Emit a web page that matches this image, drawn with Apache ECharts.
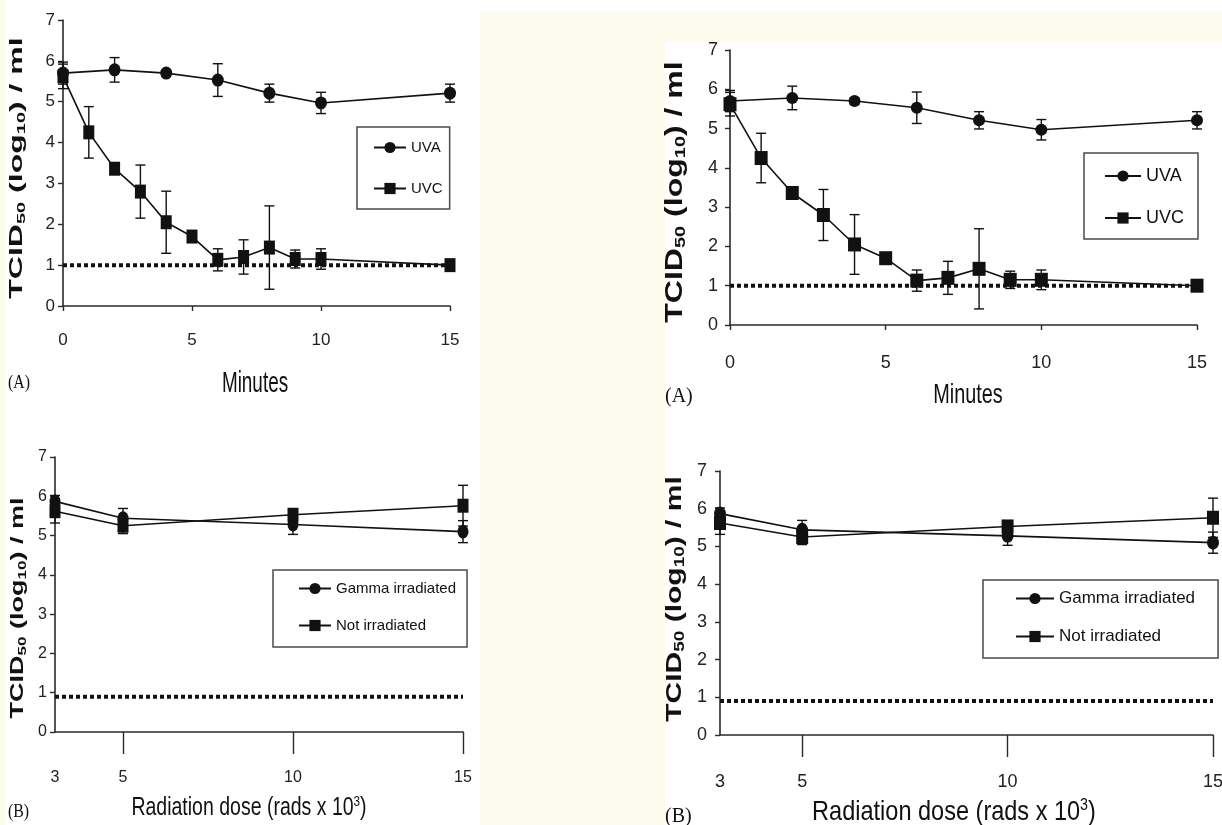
<!DOCTYPE html>
<html>
<head>
<meta charset="utf-8">
<script src="https://cdn.jsdelivr.net/npm/echarts@6/dist/echarts.min.js"></script>
<style>
html, body { margin: 0; padding: 0; background: #fff; }
#chart { width: 1222px; height: 825px; }
</style>
</head>
<body>
<div id="chart"></div>
<script>
// panel A: titre vs UV exposure time
const uvaMinutes = [0, 2, 4, 6, 8, 10, 15];
const uvaTitre = [5.7, 5.78, 5.7, 5.53, 5.21, 4.97, 5.21];
const uvaSd = [0.27, 0.3, 0.08, 0.4, 0.22, 0.26, 0.22];
const uvcMinutes = [0, 1, 2, 3, 4, 5, 6, 7, 8, 9, 10, 15];
const uvcTitre = [5.62, 4.25, 3.36, 2.8, 2.05, 1.7, 1.13, 1.2, 1.43, 1.15, 1.15, 1.0];
const uvcSd = [0.3, 0.63, 0.1, 0.65, 0.76, 0.1, 0.27, 0.42, 1.02, 0.22, 0.25, 0.05];
const minuteTicks = [0, 5, 10, 15];
const limitA = 1.0;

// panel B: titre vs gamma dose
const doseRads = [3, 5, 10, 15];
const gammaTitre = [5.87, 5.44, 5.28, 5.1];
const gammaSd = [0.15, 0.25, 0.25, 0.28];
const controlTitre = [5.62, 5.25, 5.53, 5.76];
const controlSd = [0.3, 0.2, 0.15, 0.52];
const doseTicks = [3, 5, 10, 15];
const limitB = 0.9;

const titreTicks = [0, 1, 2, 3, 4, 5, 6, 7];

const ink = '#111';
const axisInk = '#2a2a2a';
const sans = '"Liberation Sans", Arial, sans-serif';
const serif = '"Liberation Serif", "Times New Roman", serif';
const beige = '#fdfaee';

const pairs = (xs, ys) => xs.map((x, i) => [x, ys[i]]);
const triples = (xs, ys, es) => xs.map((x, i) => [x, ys[i], es[i]]);

// error bars drawn through the axis scales
function errorBars(params, api) {
  const x = api.value(0), y = api.value(1), sd = api.value(2);
  const hi = api.coord([x, y + sd]);
  const lo = api.coord([x, y - sd]);
  const cap = 5;
  const st = () => ({ stroke: ink, lineWidth: 1.4 });
  return {
    type: 'group',
    children: [
      { type: 'line', shape: { x1: hi[0], y1: hi[1], x2: lo[0], y2: lo[1] }, style: st() },
      { type: 'line', shape: { x1: hi[0] - cap, y1: hi[1], x2: hi[0] + cap, y2: hi[1] }, style: st() },
      { type: 'line', shape: { x1: lo[0] - cap, y1: lo[1], x2: lo[0] + cap, y2: lo[1] }, style: st() }
    ]
  };
}

function lineSeries(name, idx, xs, ys, symbol, size) {
  return {
    name: name, type: 'line', xAxisIndex: idx, yAxisIndex: idx,
    data: pairs(xs, ys), symbol: symbol, symbolSize: size,
    itemStyle: { color: ink }, lineStyle: { color: ink, width: 1.6 },
    z: 4, silent: true
  };
}
function errSeries(idx, xs, ys, es) {
  return {
    type: 'custom', xAxisIndex: idx, yAxisIndex: idx,
    data: triples(xs, ys, es), renderItem: errorBars,
    encode: { x: 0, y: 1 }, z: 3, silent: true
  };
}
function limitSeries(idx, x0, x1, y) {
  return {
    type: 'line', xAxisIndex: idx, yAxisIndex: idx,
    data: [[x0, y], [x1, y]], symbol: 'none',
    lineStyle: { color: ink, width: 4, type: [4, 3], cap: 'butt' },
    z: 2, silent: true
  };
}

const grids = [
  { left: 63, top: 20, width: 387, height: 286 },
  { left: 55, top: 457, width: 408, height: 275 },
  { left: 730, top: 50, width: 467, height: 275 },
  { left: 720, top: 471, width: 493, height: 264 }
];

function xAxisA(idx, fs, margin) {
  return {
    type: 'value', gridIndex: idx, min: 0, max: 15, interval: 5,
    splitLine: { show: false },
    axisLine: { lineStyle: { color: axisInk, width: 1.6 } },
    axisTick: { length: 5, lineStyle: { color: axisInk, width: 1.4 } },
    axisLabel: { fontFamily: sans, fontSize: fs, color: '#222', margin: margin,
      customValues: minuteTicks }
  };
}
function xAxisB(idx, fs, margin) {
  return {
    type: 'value', gridIndex: idx, min: 3, max: 15,
    splitLine: { show: false },
    axisLine: { lineStyle: { color: axisInk, width: 1.6 } },
    axisTick: { length: 22, lineStyle: { color: axisInk, width: 1.4 },
      customValues: doseTicks.slice(1) },
    axisLabel: { fontFamily: sans, fontSize: fs, color: '#222', margin: margin,
      customValues: doseTicks }
  };
}
function yAxis(idx, fs, margin) {
  return {
    type: 'value', gridIndex: idx, min: 0, max: 7, interval: 1,
    splitLine: { show: false },
    axisLine: { show: true, lineStyle: { color: axisInk, width: 1.6 } },
    axisTick: { show: true, length: 5, lineStyle: { color: axisInk, width: 1.4 } },
    axisLabel: { fontFamily: sans, fontSize: fs, color: '#222', margin: margin,
      customValues: titreTicks }
  };
}

function legendBox(left, top, names, fs, icon, gap, pad) {
  return {
    orient: 'vertical', left: left, top: top, data: names,
    itemWidth: icon, itemHeight: 14, itemGap: gap, padding: pad,
    borderColor: '#4a4a4a', borderWidth: 1.5, backgroundColor: '#fff',
    textStyle: { fontFamily: sans, fontSize: fs, color: '#111', lineHeight: 14 },
    selectedMode: false
  };
}

function yTitle(x, y, fs, sy) {
  return {
    type: 'text', x: x, y: y, rotation: Math.PI / 2, scaleY: sy, z: 10,
    style: {
      text: 'TCID{sub|50} (log{sub|10}) / ml',
      fontFamily: sans, fontWeight: 'bold', fontSize: fs, lineHeight: fs + 4,
      fill: '#111', align: 'center', verticalAlign: 'middle',
      rich: { sub: { fontFamily: sans, fontWeight: 'bold', fontSize: Math.round(fs * 0.62),
        lineHeight: Math.round(fs * 0.62), verticalAlign: 'bottom', fill: '#111' } }
    }
  };
}
function xTitle(x, y, text, fs, sx) {
  return {
    type: 'text', x: x, y: y, scaleX: sx, z: 10,
    style: {
      text: text, fontFamily: sans, fontSize: fs, lineHeight: fs + 2,
      fill: '#111', align: 'center', verticalAlign: 'middle',
      rich: { sup: { fontFamily: sans, fontSize: Math.round(fs * 0.6),
        lineHeight: Math.round(fs * 0.6), verticalAlign: 'top', fill: '#111' } }
    }
  };
}
function tag(x, y, text, fs, sx) {
  return {
    type: 'text', x: x, y: y, scaleX: sx, z: 10,
    style: { text: text, fontFamily: serif, fontSize: fs, fill: '#111',
      align: 'left', verticalAlign: 'middle' }
  };
}

const option = {
  backgroundColor: '#fff',
  animation: false,
  grid: grids.map(g => Object.assign({ outerBoundsMode: 'none', containLabel: false }, g)),
  xAxis: [xAxisA(0, 17, 26), xAxisB(1, 16, 38), xAxisA(2, 18, 29), xAxisB(3, 18, 38)],
  yAxis: [yAxis(0, 17, 8), yAxis(1, 16, 8), yAxis(2, 18, 12), yAxis(3, 18, 13)],
  legend: [
    legendBox(357, 127, ['UVA', 'UVC'], 15, 32, 26, [13, 7, 13, 16]),
    legendBox(273, 570, ['Gamma irradiated', 'Not irradiated'], 15, 32, 22, [11, 11, 14, 25]),
    legendBox(1084, 153, ['UVA', 'UVC'], 18, 36, 24, [14, 14, 12, 20]),
    legendBox(983, 580, ['Gamma irradiated', 'Not irradiated'], 17, 38, 21, [10, 23, 13, 32])
  ],
  graphic: [
    { type: 'rect', shape: { x: 0, y: 0, width: 6, height: 825 }, style: { fill: beige }, z: -5 },
    { type: 'rect', shape: { x: 480, y: 11, width: 185, height: 814 }, style: { fill: beige }, z: -5 },
    { type: 'rect', shape: { x: 665, y: 11, width: 557, height: 31 }, style: { fill: beige }, z: -5 },
    yTitle(17, 168, 32, 0.56),
    xTitle(255, 384, 'Minutes', 30, 0.63),
    tag(8, 383, '(A)', 18, 0.88),
    yTitle(18, 608, 27, 0.67),
    xTitle(249, 808, 'Radiation dose (rads x 10{sup|3})', 25, 0.78),
    tag(8, 812, '(B)', 18, 0.88),
    yTitle(675, 192, 32, 0.74),
    xTitle(968, 395, 'Minutes', 28, 0.71),
    tag(665, 397, '(A)', 20, 1),
    yTitle(675, 599, 30, 0.74),
    xTitle(954, 812, 'Radiation dose (rads x 10{sup|3})', 28, 0.84),
    tag(665, 817, '(B)', 20, 1)
  ],
  series: [
    limitSeries(0, 0, 15, limitA),
    errSeries(0, uvaMinutes, uvaTitre, uvaSd),
    errSeries(0, uvcMinutes, uvcTitre, uvcSd),
    lineSeries('UVA', 0, uvaMinutes, uvaTitre, 'circle', [12, 13]),
    lineSeries('UVC', 0, uvcMinutes, uvcTitre, 'rect', [11, 14]),

    limitSeries(1, 3, 15, limitB),
    errSeries(1, doseRads, gammaTitre, gammaSd),
    errSeries(1, doseRads, controlTitre, controlSd),
    lineSeries('Gamma irradiated', 1, doseRads, gammaTitre, 'circle', [11, 14]),
    lineSeries('Not irradiated', 1, doseRads, controlTitre, 'rect', [11, 14]),

    limitSeries(2, 0, 15, limitA),
    errSeries(2, uvaMinutes, uvaTitre, uvaSd),
    errSeries(2, uvcMinutes, uvcTitre, uvcSd),
    lineSeries('UVA', 2, uvaMinutes, uvaTitre, 'circle', [12, 12]),
    lineSeries('UVC', 2, uvcMinutes, uvcTitre, 'rect', [13, 14]),

    limitSeries(3, 3, 15, limitB),
    errSeries(3, doseRads, gammaTitre, gammaSd),
    errSeries(3, doseRads, controlTitre, controlSd),
    lineSeries('Gamma irradiated', 3, doseRads, gammaTitre, 'circle', [12, 14]),
    lineSeries('Not irradiated', 3, doseRads, controlTitre, 'rect', [12, 14])
  ]
};

const chart = echarts.init(document.getElementById('chart'), null, { renderer: 'canvas' });
chart.setOption(option);
</script>
</body>
</html>
